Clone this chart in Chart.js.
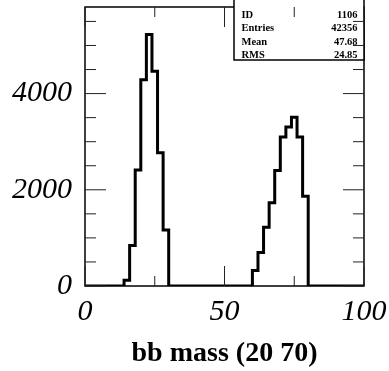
<!DOCTYPE html>
<html>
<head>
<meta charset="utf-8">
<script src="https://cdn.jsdelivr.net/npm/chart.js@4/dist/chart.umd.min.js"></script>
<style>
  body { margin: 0; background: #fff; }
  #wrap { width: 389px; height: 371px; }
</style>
</head>
<body>
<div id="wrap"><canvas id="hist"></canvas></div>
<script>
// histogram: 50 bins of width 2 over 0..100
const binLow = 0;
const binWidth = 2;
const counts = [
  0, 0, 0, 0, 0, 0, 0, 120, 840, 2410,
  4290, 5230, 4465, 2770, 1165, 0, 0, 0, 0, 0,
  0, 0, 0, 0, 0, 0, 0, 0, 0, 0,
  320, 694, 1222, 1730, 2400, 3097, 3305, 3506, 3097, 1868,
  0, 0, 0, 0, 0, 0, 0, 0, 0, 0
];
const xTicks = [0, 50, 100];
const xMinor = [25, 75];
const yTicks = [0, 2000, 4000];
const yMinor = [500, 1000, 1500, 2500, 3000, 3500, 4500, 5000, 5500];
const yMax = 5800;
const xTitle = 'bb mass (20 70)';
const statLabels = ['ID', 'Entries', 'Mean', 'RMS'];
const statValues = ['1106', '42356', '47.68', '24.85'];

// step points at the lower bin edges, plus a closing point at the upper edge
const points = counts.map((c, i) => ({ x: binLow + i * binWidth, y: c }));
points.push({ x: binLow + counts.length * binWidth, y: 0 });

const serif = "'Liberation Serif', 'Times New Roman', serif";

const frame = {
  id: 'frame',
  afterDatasetsDraw(chart) {
    const ctx = chart.ctx;
    const a = chart.chartArea;
    const xs = chart.scales.x, ys = chart.scales.y;
    ctx.save();
    ctx.strokeStyle = '#000';
    ctx.lineWidth = 1.5;
    ctx.strokeRect(a.left, a.top, a.right - a.left, a.bottom - a.top);

    // stats box
    const bx = 234, by = -2, bw = a.right - 234, bh = 62;
    ctx.fillStyle = '#fff';
    ctx.fillRect(bx, by, bw, bh);
    ctx.lineWidth = 1.5;
    ctx.strokeRect(bx, by, bw, bh);
    ctx.fillStyle = '#000';
    ctx.font = 'bold 10.5px ' + serif;
    const rows = [18, 31, 44.5, 57.5];
    statLabels.forEach((s, i) => {
      ctx.textAlign = 'left';
      ctx.fillText(s, 241.5, rows[i]);
      ctx.textAlign = 'right';
      ctx.fillText(statValues[i], 357.5, rows[i]);
    });

    // ticks on all four sides, pointing inward
    ctx.lineWidth = 1;
    ctx.strokeStyle = '#222';
    const hTick = (v, len) => {
      const y = ys.getPixelForValue(v);
      ctx.beginPath();
      ctx.moveTo(a.left, y); ctx.lineTo(a.left + len, y);
      ctx.moveTo(a.right, y); ctx.lineTo(a.right - len, y);
      ctx.stroke();
    };
    const vTick = (v, len) => {
      const x = xs.getPixelForValue(v);
      ctx.beginPath();
      ctx.moveTo(x, a.bottom); ctx.lineTo(x, a.bottom - len);
      ctx.moveTo(x, a.top); ctx.lineTo(x, a.top + len);
      ctx.stroke();
    };
    yTicks.forEach(v => hTick(v, 21));
    yMinor.forEach(v => hTick(v, 11));
    xTicks.forEach(v => vTick(v, 20));
    xMinor.forEach(v => vTick(v, 10));
    ctx.restore();
  }
};

new Chart(document.getElementById('hist'), {
  type: 'line',
  data: {
    datasets: [{
      data: points,
      stepped: 'before',
      borderColor: '#000',
      borderWidth: 3,
      pointRadius: 0,
      fill: false
    }]
  },
  plugins: [frame],
  options: {
    responsive: true,
    maintainAspectRatio: false,
    animation: false,
    layout: { padding: { top: 7, right: 25, left: 0, bottom: 0 } },
    plugins: { legend: { display: false }, tooltip: { enabled: false } },
    scales: {
      x: {
        type: 'linear',
        min: 0,
        max: 100,
        grid: { display: false, drawTicks: false },
        border: { display: false },
        afterBuildTicks: s => { s.ticks = xTicks.map(v => ({ value: v })); },
        afterFit: s => { s.height = 85; s.paddingLeft = 0; s.paddingRight = 0; },
        ticks: {
          padding: 8,
          color: '#000',
          callback: v => String(v),
          font: { family: serif, size: 30, style: 'italic' }
        },
        title: {
          display: true,
          text: xTitle,
          color: '#000',
          padding: { top: 0, bottom: 0 },
          font: { family: serif, size: 28, weight: 'bold' }
        }
      },
      y: {
        min: 0,
        max: yMax,
        grid: { display: false, drawTicks: false },
        border: { display: false },
        afterBuildTicks: s => { s.ticks = yTicks.map(v => ({ value: v })); },
        afterFit: s => { s.width = 85; s.paddingTop = 0; s.paddingBottom = 0; },
        ticks: {
          padding: 13,
          color: '#000',
          callback: v => String(v),
          font: { family: serif, size: 30, style: 'italic' }
        }
      }
    }
  }
});
</script>
</body>
</html>
